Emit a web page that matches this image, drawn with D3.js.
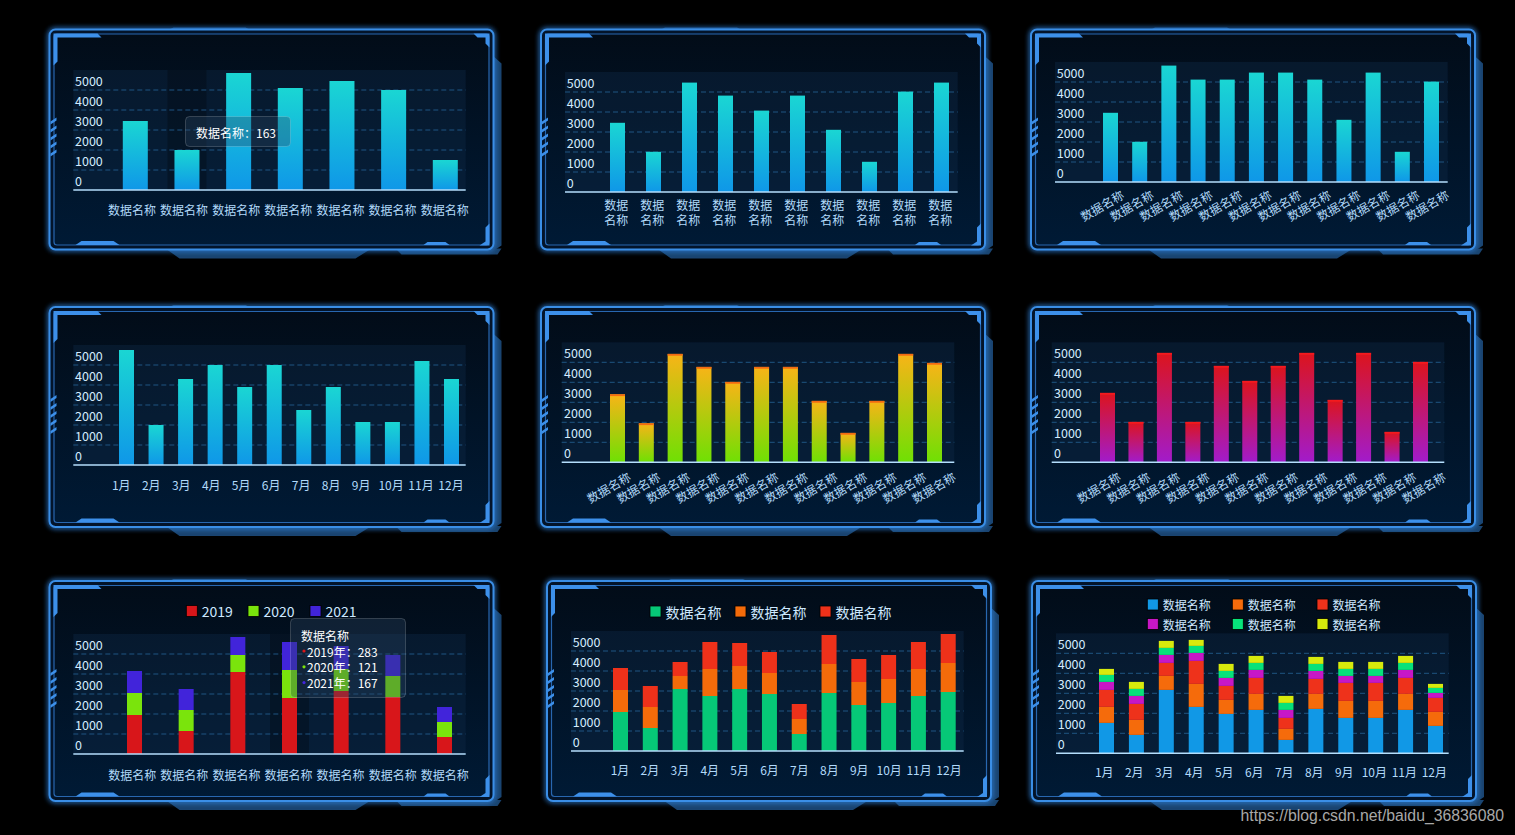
<!DOCTYPE html>
<html><head><meta charset="utf-8">
<script src="https://cdn.jsdelivr.net/npm/d3@7"></script>
<style>html,body{margin:0;background:#000;overflow:hidden}svg{display:block}</style>
</head><body><svg id="c" width="1515" height="835"></svg>
<script>
// ---------------- DATA ----------------
const yTicks = [0, 1000, 2000, 3000, 4000, 5000];
const cats7 = ["数据名称","数据名称","数据名称","数据名称","数据名称","数据名称","数据名称"];
const cats10 = ["数据名称","数据名称","数据名称","数据名称","数据名称","数据名称","数据名称","数据名称","数据名称","数据名称"];
const cats12 = ["数据名称","数据名称","数据名称","数据名称","数据名称","数据名称","数据名称","数据名称","数据名称","数据名称","数据名称","数据名称"];
const months = ["1月","2月","3月","4月","5月","6月","7月","8月","9月","10月","11月","12月"];

const p1Values = [3450, 2000, 5850, 5100, 5450, 5000, 1500];
const p2Values = [3460, 2010, 5470, 4820, 4070, 4820, 3110, 1510, 5020, 5470];
const p3Values = [3460, 2010, 5820, 5120, 5120, 5470, 5470, 5120, 3110, 5470, 1510, 5020];
const p4Values = [5750, 2000, 4300, 5000, 3900, 5000, 2750, 3900, 2150, 2150, 5200, 4300];
const p5Values = [3400, 1950, 5420, 4770, 4020, 4770, 4770, 3070, 1470, 3070, 5420, 4970];
const p6Values = [3470, 2020, 5470, 2020, 4820, 4070, 4820, 5470, 3120, 5470, 1520, 5020];

const p7Names = ["2019", "2020", "2021"];
const p7s2019 = [1950, 1150, 4100, 2800, 3150, 2850, 850];
const p7s2020 = [1100, 1050, 850, 1400, 1100, 1050, 750];
const p7s2021 = [1100, 1050, 900, 1400, 1150, 1050, 750];
const p7Tooltip = { title: "数据名称", rows: ["2019年：283", "2020年：121", "2021年：167"] };

const p8Names = ["数据名称", "数据名称", "数据名称"];
const p8A = [1950, 1150, 3100, 2750, 3100, 2850, 850, 2900, 2300, 2400, 2750, 2950];
const p8B = [1100, 1050, 650, 1350, 1150, 1050, 750, 1450, 1150, 1200, 1350, 1450];
const p8C = [1100, 1050, 700, 1350, 1150, 1050, 750, 1450, 1150, 1200, 1350, 1450];

const p9Names = ["数据名称", "数据名称", "数据名称", "数据名称", "数据名称", "数据名称"];
const p9A = [1520, 920, 3170, 2320, 1970, 2170, 670, 2220, 1770, 1770, 2170, 1370];
const p9B = [800, 750, 700, 1150, 700, 800, 550, 750, 850, 850, 800, 700];
const p9C = [850, 800, 650, 1150, 700, 800, 550, 750, 900, 900, 800, 700];
const p9D = [400, 400, 400, 400, 400, 400, 400, 400, 350, 350, 400, 250];
const p9E = [350, 350, 350, 350, 350, 350, 350, 350, 350, 350, 350, 250];
const p9F = [300, 350, 350, 300, 350, 350, 350, 350, 350, 350, 350, 200];

const p1Tooltip = "数据名称：163";
const watermark = "https://blog.csdn.net/baidu_36836080";

// ---------------- SETUP ----------------
const FONT = "'Noto Sans CJK SC','Noto Sans',sans-serif";
const svg = d3.select("#c");
const defs = svg.append("defs");

function vGrad(id, top, bottom) {
  const lg = defs.append("linearGradient").attr("id", id).attr("x1", 0).attr("y1", 0).attr("x2", 0).attr("y2", 1);
  lg.append("stop").attr("offset", "0%").attr("stop-color", top);
  lg.append("stop").attr("offset", "100%").attr("stop-color", bottom);
}
vGrad("gCyan", "#1ad6d3", "#0f97e8");
vGrad("gYellow", "#f8b417", "#6fe004");
vGrad("gRed", "#dc141c", "#a21bcb");
vGrad("gPanel", "#020c18", "#001a35");
const flt = defs.append("filter").attr("id", "glow").attr("x", "-10%").attr("y", "-10%").attr("width", "120%").attr("height", "120%");
flt.append("feGaussianBlur").attr("stdDeviation", 2.5);

svg.append("rect").attr("width", 1515).attr("height", 835).attr("fill", "#000");

// ---------------- FRAME ----------------
function frame(ox, oy, w, h) {
  const g = svg.append("g").attr("transform", `translate(${ox},${oy})`);
  const tab = "#1a4470";
  g.append("path").attr("d", `M${w - 1},26 L${w + 8},34 L${w + 8},${h - 4} L${w - 1},${h + 2} Z`).attr("fill", tab);
  g.append("path").attr("d", `M116,${h - 1} L130,${h + 9} L306,${h + 9} L322,${h - 1} Z`).attr("fill", tab);
  g.append("path").attr("d", `M346,${h - 1} L352,${h + 5} L${w + 4},${h + 5} L${w + 8},${h - 1} Z`).attr("fill", tab);
  g.append("path").attr("d", `M118,1 L124,-2 L196,-2 L202,1 Z`).attr("fill", tab);
  g.append("rect").attr("x", 0).attr("y", 0).attr("width", w).attr("height", h).attr("rx", 6)
    .attr("fill", "none").attr("stroke", "#2f80d8").attr("stroke-width", 4).attr("filter", "url(#glow)").attr("opacity", 0.9);
  g.append("rect").attr("x", 0).attr("y", 0).attr("width", w).attr("height", h).attr("rx", 6)
    .attr("fill", "#03142a").attr("stroke", "#3a8ee6").attr("stroke-width", 2);
  g.append("rect").attr("x", 4.5).attr("y", 4.5).attr("width", w - 9).attr("height", h - 9).attr("rx", 3)
    .attr("fill", "url(#gPanel)").attr("stroke", "#2867b0").attr("stroke-width", 1.2);
  const acc = "#3d90ea";
  g.append("path").attr("d", `M4,4 H48 L52,8 H8 V32 L4,36 Z`).attr("fill", acc);
  g.append("path").attr("d", `M${w - 20},4 H${w - 4} V18 L${w - 8},14 V8 H${w - 16} Z`).attr("fill", acc);
  g.append("path").attr("d", `M26,${h - 4.5} L32,${h - 8.5} H64 L70,${h - 4.5} Z`).attr("fill", acc);
  g.append("path").attr("d", `M${w - 70},${h - 4.5} L${w - 66},${h - 7.5} H${w - 48} L${w - 44},${h - 4.5} Z`).attr("fill", acc);
  g.append("path").attr("d", `M${w - 8},${h - 22} L${w - 4},${h - 26} V${h - 4} H${w - 14} L${w - 8},${h - 8} Z`).attr("fill", acc);
  for (let i = 0; i < 5; i++) {
    const yy = 88 + i * 8;
    g.append("path").attr("d", `M1,${yy + 4} L7,${yy} L7,${yy + 3} L1,${yy + 7} Z`).attr("fill", acc);
  }
}

// ---------------- CHART ----------------
function drawChart(c) {
  const g = svg.append("g");
  const n = c.cats.length;
  const y = d3.scaleLinear().domain([0, 6000]).range([c.base, c.base - 120]);
  const x = d3.scalePoint().domain(d3.range(n)).range([c.c0, c.c1]);
  const xl = d3.scalePoint().domain(d3.range(n)).range([c.l0, c.l1]);

  g.append("rect").attr("x", c.x0).attr("y", y(6000)).attr("width", c.x1 - c.x0).attr("height", y(0) - y(6000))
    .attr("fill", "#0e2944").attr("opacity", 0.42);
  if (c.shadow != null) {
    g.append("rect").attr("x", x(c.shadow) - 19.5).attr("y", y(6000)).attr("width", 39).attr("height", y(0) - y(6000))
      .attr("fill", "#000").attr("opacity", 0.25);
  }
  g.selectAll("line.grid").data(yTicks.slice(1)).join("line").attr("class", "grid")
    .attr("x1", c.x0).attr("x2", c.x1).attr("y1", d => y(d)).attr("y2", d => y(d))
    .attr("stroke", "#1f5582").attr("stroke-width", 1).attr("stroke-dasharray", "5,3");

  const ya = d3.axisRight(y).tickValues(yTicks).tickSize(0).tickPadding(0).tickFormat(d3.format("d"));
  const yg = g.append("g").attr("transform", `translate(${c.ylx},-9)`).call(ya);
  yg.select(".domain").remove();
  yg.attr("font-family", FONT).attr("font-size", 12.5);
  yg.selectAll("text").attr("fill", "#d4ecff");

  const bw = c.bw || 15;
  if (c.values) {
    g.selectAll("rect.bar").data(c.values).join("rect").attr("class", "bar")
      .attr("x", (d, i) => x(i) - bw / 2).attr("width", bw)
      .attr("y", d => y(d)).attr("height", d => y(0) - y(d)).attr("fill", c.fill);
    if (c.cap) {
      g.selectAll("rect.cap").data(c.values).join("rect").attr("class", "cap")
        .attr("x", (d, i) => x(i) - bw / 2).attr("width", bw)
        .attr("y", d => y(d)).attr("height", 1.8).attr("fill", c.cap);
    }
  }
  if (c.stack) {
    const keys = c.stack.map((s, k) => "k" + k);
    const rows = d3.range(n).map(i => { const r = {}; c.stack.forEach((s, k) => r["k" + k] = s[i]); return r; });
    const layers = d3.stack().keys(keys)(rows);
    layers.forEach((layer, k) => {
      g.selectAll("rect.s" + k).data(layer).join("rect").attr("class", "s" + k)
        .attr("x", (d, i) => x(i) - bw / 2).attr("width", bw)
        .attr("y", d => y(d[1])).attr("height", d => y(d[0]) - y(d[1])).attr("fill", c.colors[k]);
    });
  }

  g.append("line").attr("x1", c.x0).attr("x2", c.x1).attr("y1", c.base).attr("y2", c.base)
    .attr("stroke", "#b4defc").attr("stroke-width", 1.5);

  const lab = g.append("g").attr("font-family", FONT).attr("font-size", 12).attr("fill", "#b2dafa");
  c.cats.forEach((t, i) => {
    if (c.mode === "h") {
      lab.append("text").attr("x", xl(i)).attr("y", c.ly).attr("text-anchor", "middle").attr("dominant-baseline", "central").text(t);
    } else if (c.mode === "wrap") {
      lab.append("text").attr("x", xl(i)).attr("y", c.ly).attr("text-anchor", "middle").attr("dominant-baseline", "central").text(t.slice(0, 2));
      lab.append("text").attr("x", xl(i)).attr("y", c.ly2).attr("text-anchor", "middle").attr("dominant-baseline", "central").text(t.slice(2));
    } else {
      lab.append("text").attr("transform", `translate(${xl(i)},${c.ly}) rotate(-30)`)
        .attr("text-anchor", "end").attr("dominant-baseline", "central").text(t);
    }
  });
  return { x, y };
}

function legend(items, colors, pos, size) {
  const g = svg.append("g").attr("font-family", FONT).attr("font-size", size);
  items.forEach((t, i) => {
    const p = pos[i];
    g.append("rect").attr("x", p[0]).attr("y", p[1] - 5.5).attr("width", 11).attr("height", 11)
      .attr("fill", colors[i]).attr("stroke", "#000").attr("stroke-width", 0.8);
    g.append("text").attr("x", p[0] + 15.5).attr("y", p[1]).attr("dominant-baseline", "central").attr("fill", "#cde8ff").text(t);
  });
}

// ---------------- PANELS ----------------
const frames = [[49.5, 29.5], [541, 29.5], [1031, 29.5], [49.5, 307], [541, 307], [1031, 307], [49.5, 581], [547, 581], [1032, 581]];
frames.forEach(f => frame(f[0], f[1], 444, 220));

drawChart({ cats: cats7, values: p1Values, fill: "url(#gCyan)", x0: 73.3, x1: 465.7, base: 190, c0: 135.3, c1: 445.3, bw: 25,
  mode: "h", l0: 132, l1: 444.7, ly: 209.3, ylx: 75, shadow: 1 });
drawChart({ cats: cats10, values: p2Values, fill: "url(#gCyan)", x0: 565, x1: 957.7, base: 192, c0: 617.5, c1: 941.5,
  mode: "wrap", l0: 616.3, l1: 940.3, ly: 204, ly2: 219.5, ylx: 566.7 });
drawChart({ cats: cats12, values: p3Values, fill: "url(#gCyan)", x0: 1055, x1: 1447.7, base: 182, c0: 1110.5, c1: 1431.5,
  mode: "rot", l0: 1122.5, l1: 1447.5, ly: 193, ylx: 1056.7 });
drawChart({ cats: months, values: p4Values, fill: "url(#gCyan)", x0: 73.3, x1: 465.7, base: 465, c0: 126.5, c1: 451.5,
  mode: "h", l0: 121.3, l1: 451, ly: 484.3, ylx: 75 });
drawChart({ cats: cats12, values: p5Values, fill: "url(#gYellow)", cap: "#f36a12", x0: 561.7, x1: 954.3, base: 462.3, c0: 617.5, c1: 934.5,
  mode: "rot", l0: 629.2, l1: 954.2, ly: 475, ylx: 564 });
drawChart({ cats: cats12, values: p6Values, fill: "url(#gRed)", cap: "#f41a1e", x0: 1051.7, x1: 1444.3, base: 462.3, c0: 1107.5, c1: 1420.5,
  mode: "rot", l0: 1119.2, l1: 1444.2, ly: 475, ylx: 1054 });

const p7Colors = ["#d8161a", "#7ae40c", "#4124da"];
drawChart({ cats: cats7, stack: [p7s2019, p7s2020, p7s2021], colors: p7Colors, x0: 73.3, x1: 465.7, base: 754, c0: 134.5, c1: 444.5,
  mode: "h", l0: 132.3, l1: 444.7, ly: 774, ylx: 75, shadow: 3 });
legend(p7Names, p7Colors, [[186.3, 611], [248, 611], [310, 611]], 14);

const p8Colors = ["#06c877", "#f46b0a", "#ee311a"];
drawChart({ cats: months, stack: [p8A, p8B, p8C], colors: p8Colors, x0: 571, x1: 963.7, base: 751, c0: 620.5, c1: 948.2,
  mode: "h", l0: 620, l1: 949, ly: 769.3, ylx: 572.7 });
legend(p8Names, p8Colors, [[650, 611.5], [735, 611.5], [820, 611.5]], 14);

const p9Colors = ["#1198e6", "#f56b0b", "#ee321b", "#c717c6", "#07e27a", "#d8ea0c"];
drawChart({ cats: months, stack: [p9A, p9B, p9C, p9D, p9E, p9F], colors: p9Colors, x0: 1056, x1: 1448.7, base: 753.3, c0: 1106.5, c1: 1435.5,
  mode: "h", l0: 1104.3, l1: 1434.3, ly: 771.7, ylx: 1057.7 });
legend(p9Names, p9Colors, [[1147.3, 604.5], [1232.3, 604.5], [1317, 604.5], [1147.3, 624], [1232.3, 624], [1317, 624]], 12);

// ---------------- TOOLTIPS ----------------
function tipBox(x, y, w, h) {
  svg.append("rect").attr("x", x).attr("y", y).attr("width", w).attr("height", h).attr("rx", 4)
    .attr("fill", "#2a4560").attr("fill-opacity", 0.35).attr("stroke", "#ffffff").attr("stroke-opacity", 0.18).attr("stroke-width", 1);
}
tipBox(185.5, 116.5, 105, 30);
svg.append("text").attr("x", 196).attr("y", 132).attr("dominant-baseline", "central").attr("font-family", FONT)
  .attr("font-size", 12).attr("fill", "#ffffff").text(p1Tooltip);

tipBox(290.5, 618.5, 115, 79);
const tg = svg.append("g").attr("font-family", FONT).attr("font-size", 12).attr("fill", "#ffffff");
tg.append("text").attr("x", 301).attr("y", 635).attr("dominant-baseline", "central").text(p7Tooltip.title);
p7Tooltip.rows.forEach((r, i) => {
  const yy = 651 + i * 15.8;
  tg.append("circle").attr("cx", 304).attr("cy", yy).attr("r", 1.6).attr("fill", p7Colors[i]);
  tg.append("text").attr("x", 307).attr("y", yy).attr("dominant-baseline", "central").text(r);
});

// ---------------- WATERMARK ----------------
svg.append("text").attr("x", 1504).attr("y", 821).attr("text-anchor", "end")
  .attr("font-family", "'Liberation Sans',Arial,sans-serif").attr("font-size", 15.8).attr("fill", "#a8a8a8").text(watermark);
</script></body></html>
